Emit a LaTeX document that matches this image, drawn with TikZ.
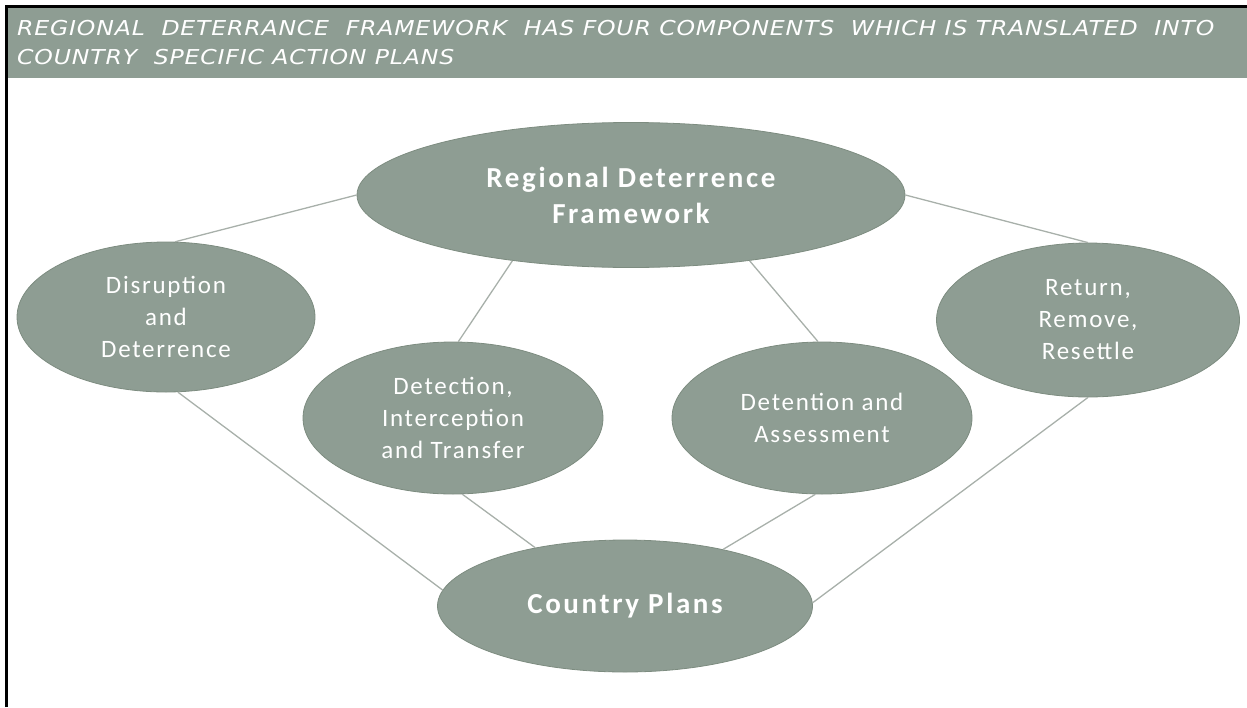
\documentclass[tikz,border=0pt]{standalone}
\usepackage{fontspec}
\setmainfont{Carlito}
\newfontfamily\headfont[FakeStretch=1.15,LetterSpace=4]{DejaVu Sans}
\usepackage{tikz}
\usetikzlibrary{shapes.geometric}
\definecolor{sage}{HTML}{8E9D93}
\definecolor{sageedge}{HTML}{7D8C80}
\definecolor{linkgray}{HTML}{A8B0AA}
\tikzset{
  blob/.style={ellipse, fill=sage, draw=sageedge, line width=0.8pt, inner sep=0pt,
    text=white, align=center, font=\fontsize{25}{32}\selectfont\addfontfeature{LetterSpace=7}},
  bigblob/.style={blob, font=\fontsize{29}{36}\selectfont\bfseries\addfontfeature{LetterSpace=9}},
  link/.style={draw=linkgray, line width=1.3pt},
  frame/.style={draw=black, line width=3pt},
  head/.style={white, anchor=north west, align=left, inner sep=0pt,
    font=\headfont\itshape\fontsize{20.5}{29}\selectfont}
}

\begin{document}
\begin{tikzpicture}[x=1pt,y=-1pt]
  \useasboundingbox (0,0) rectangle (1247,707);
  % header band
  \fill[sage] (7,7) rectangle (1247,78);
  \draw[frame] (6,707) -- (6,6) -- (1247,6);
  \node[head] (title) at (17,20) {REGIONAL\ \ DETERRANCE\ \ FRAMEWORK\ \ HAS FOUR COMPONENTS\ \ WHICH IS TRANSLATED\ \ INTO\\COUNTRY\ \ SPECIFIC ACTION PLANS};
  % ellipses
  \node[bigblob, minimum width=548, minimum height=145] (rdf) at (631,195) {Regional Deterrence\\Framework};
  \node[blob, minimum width=298, minimum height=150] (disrupt) at (166,317) {Disruption\\and\\Deterrence};
  \node[blob, minimum width=300, minimum height=152] (detect) at (453,418) {Detection,\\Interception\\and Transfer};
  \node[blob, minimum width=300, minimum height=152] (detain) at (822,418) {Detention and\\Assessment};
  \node[blob, minimum width=303, minimum height=154] (ret) at (1088,320) {Return,\\Remove,\\Resettle};
  \node[bigblob, minimum width=375, minimum height=132] (plans) at (625,606) {Country Plans};
  % links
  \draw[link] (rdf.180) -- (disrupt.83);
  \draw[link] (rdf.0) -- (ret.90);
  \draw[link] (rdf.209) -- (detect.86);
  \draw[link] (rdf.331) -- (detain.93);
  \draw[link] (disrupt.279) -- (plans.175);
  \draw[link] (ret.270) -- (plans.1);
  \draw[link] (detect.277) -- (plans.147);
  \draw[link] (detain.265) -- (plans.30);
\end{tikzpicture}
\end{document}
